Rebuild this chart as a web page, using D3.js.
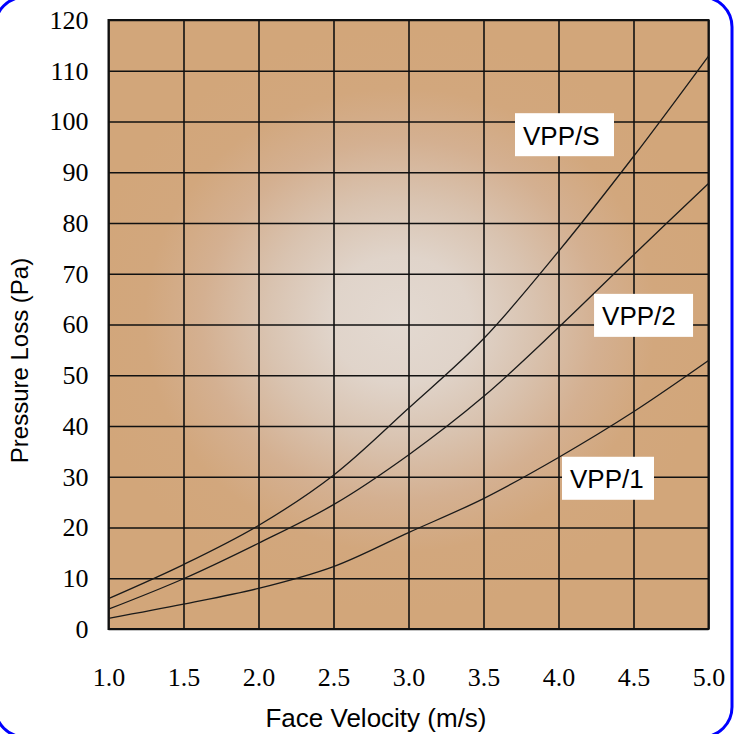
<!DOCTYPE html>
<html>
<head>
<meta charset="utf-8">
<script src="https://cdn.jsdelivr.net/npm/d3@7"></script>
<style>
  html, body { margin: 0; padding: 0; background: #ffffff; }
  svg { display: block; }
</style>
</head>
<body>
<div id="chart"></div>
<script>
// chart values
var velocity = [1.0, 1.5, 2.0, 2.5, 3.0, 3.5, 4.0, 4.5, 5.0];
var vppS = [6.0, 12.7, 20.4, 30.3, 43.5, 57.2, 74.4, 93.1, 112.9];
var vpp2 = [3.9, 9.9, 16.9, 24.5, 34.3, 45.8, 59.4, 73.7, 87.8];
var vpp1 = [2.1, 4.9, 8.0, 12.3, 19.0, 25.7, 33.8, 42.8, 52.9];
var seriesNames = ["VPP/S", "VPP/2", "VPP/1"];
var xTicks = [1.0, 1.5, 2.0, 2.5, 3.0, 3.5, 4.0, 4.5, 5.0];
var yTicks = [0, 10, 20, 30, 40, 50, 60, 70, 80, 90, 100, 110, 120];

var svgWidth = 739;
var svgHeight = 734;
var margin = { left: 108.5, top: 20, right: 30.5, bottom: 105 };
var chartWidth = svgWidth - margin.left - margin.right;
var chartHeight = svgHeight - margin.top - margin.bottom;

var svg = d3.select("#chart").append("svg")
    .attr("width", svgWidth)
    .attr("height", svgHeight);

// blue rounded frame, partly outside the window
svg.append("rect")
    .attr("x", -5)
    .attr("y", -3)
    .attr("width", 737)
    .attr("height", 740)
    .attr("rx", 30)
    .attr("fill", "none")
    .attr("stroke", "#0000ff")
    .attr("stroke-width", 3);

// radial background glow
var defs = svg.append("defs");
var grad = defs.append("radialGradient")
    .attr("id", "glow")
    .attr("gradientUnits", "userSpaceOnUse")
    .attr("cx", 400 - margin.left)
    .attr("cy", 320 - margin.top)
    .attr("r", 290)
    .attr("gradientTransform", `translate(${400 - margin.left}, ${320 - margin.top}) scale(1.1, 1) translate(${margin.left - 400}, ${margin.top - 320})`);
[[0, "#e3d9d1"], [0.22, "#e0d4ca"], [0.42, "#d9c3b0"], [0.62, "#d4b091"], [0.8, "#d2a77d"], [1, "#d2a67a"]]
    .forEach(function (s) {
        grad.append("stop").attr("offset", s[0]).attr("stop-color", s[1]);
    });

var chartGroup = svg.append("g")
    .attr("transform", `translate(${margin.left}, ${margin.top})`);

chartGroup.append("rect")
    .attr("width", chartWidth)
    .attr("height", chartHeight)
    .attr("fill", "url(#glow)");

var xScale = d3.scaleLinear().domain([1, 5]).range([0, chartWidth]);
var yScale = d3.scaleLinear().domain([0, 120]).range([chartHeight, 0]);

var xAxis = d3.axisBottom(xScale)
    .tickValues(xTicks)
    .tickFormat(d3.format(".1f"))
    .tickSize(-chartHeight)
    .tickPadding(39);

var yAxis = d3.axisLeft(yScale)
    .tickValues(yTicks)
    .tickSize(-chartWidth)
    .tickPadding(20);

var xg = chartGroup.append("g")
    .attr("transform", `translate(0, ${chartHeight})`)
    .call(xAxis);
var yg = chartGroup.append("g").call(yAxis);

[xg, yg].forEach(function (g) {
    g.select(".domain").remove();
    g.selectAll("line").attr("stroke", "#111").attr("stroke-width", 1.6);
    g.selectAll("text")
        .attr("fill", "#000")
        .style("font-family", "'Liberation Serif', 'Times New Roman', serif")
        .style("font-size", "26px");
});

// plot border
chartGroup.append("rect")
    .attr("width", chartWidth)
    .attr("height", chartHeight)
    .attr("fill", "none")
    .attr("stroke", "#111")
    .attr("stroke-width", 2);

// curves
var line = d3.line()
    .x(function (d) { return xScale(d[0]); })
    .y(function (d) { return yScale(d[1]); })
    .curve(d3.curveCatmullRom.alpha(0.5));

[vppS, vpp2, vpp1].forEach(function (vals) {
    chartGroup.append("path")
        .datum(velocity.map(function (v, i) { return [v, vals[i]]; }))
        .attr("d", line)
        .attr("fill", "none")
        .attr("stroke", "#1a1a1a")
        .attr("stroke-width", 1.3);
});

// series labels in white boxes (anchored in data units)
var labelSpots = [
    { x: 4.04, y: 97.4, w: 99 },
    { x: 4.567, y: 61.8, w: 99 },
    { x: 4.33, y: 29.7, w: 92 }
];
labelSpots.forEach(function (s, i) {
    var cx = xScale(s.x), cy = yScale(s.y);
    chartGroup.append("rect")
        .attr("x", cx - s.w / 2)
        .attr("y", cy - 21.5)
        .attr("width", s.w)
        .attr("height", 43)
        .attr("fill", "#ffffff");
    chartGroup.append("text")
        .attr("x", cx - s.w / 2 + 8)
        .attr("y", cy + 10)
        .style("font-family", "'Liberation Sans', Arial, sans-serif")
        .style("font-size", "26px")
        .attr("fill", "#000")
        .text(seriesNames[i]);
});

// axis titles
svg.append("text")
    .attr("x", 376)
    .attr("y", 727)
    .attr("text-anchor", "middle")
    .style("font-family", "'Liberation Sans', Arial, sans-serif")
    .style("font-size", "26px")
    .attr("fill", "#000")
    .text("Face Velocity (m/s)");

svg.append("text")
    .attr("transform", "translate(28, 360.5) rotate(-90)")
    .attr("text-anchor", "middle")
    .style("font-family", "'Liberation Sans', Arial, sans-serif")
    .style("font-size", "24px")
    .attr("fill", "#000")
    .text("Pressure Loss (Pa)");
</script>
</body>
</html>
